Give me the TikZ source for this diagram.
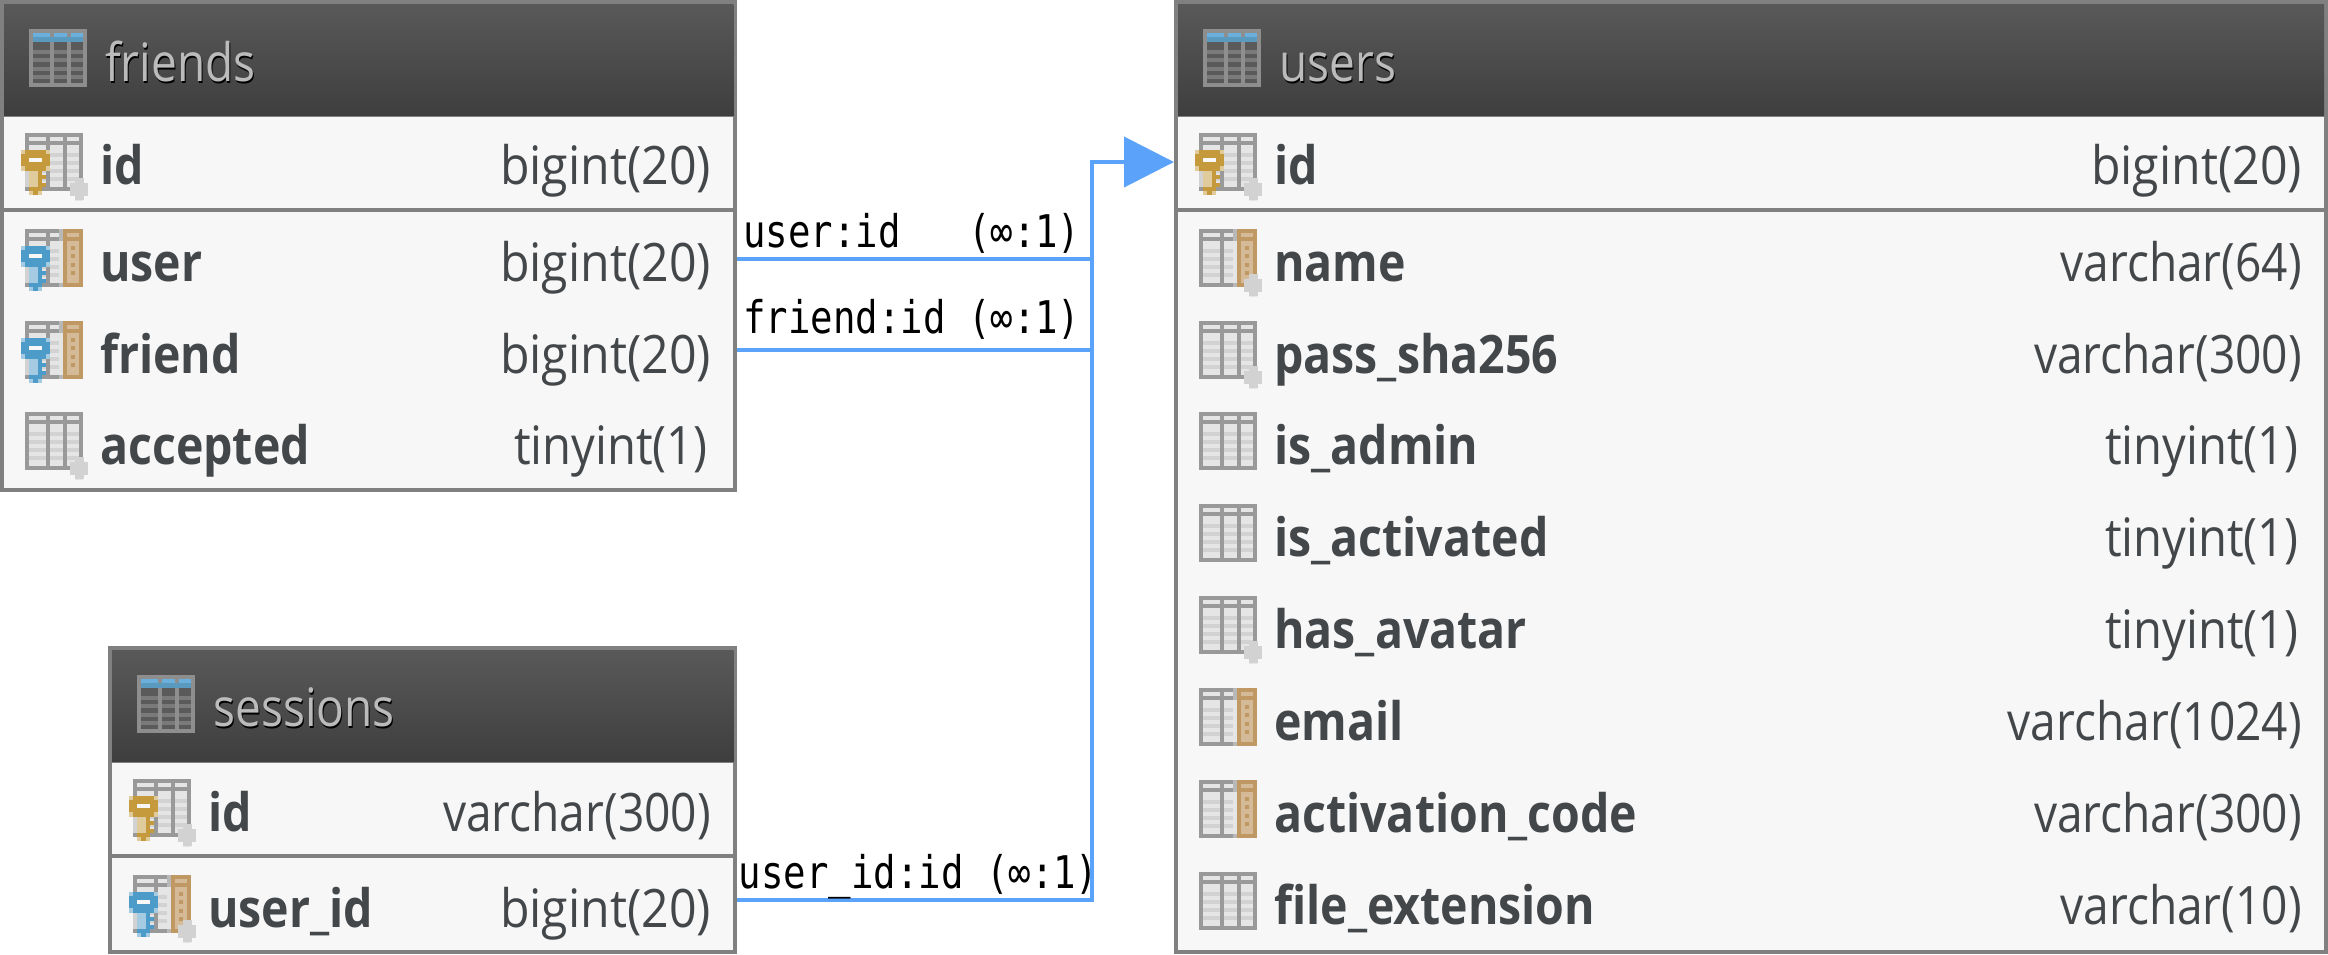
\documentclass[tikz,border=0pt]{standalone}
\usepackage{fontspec}
\usetikzlibrary{arrows.meta}
\newfontfamily\boldf[FakeStretch=0.877]{Open Sans Bold}
\newfontfamily\regf[FakeStretch=0.87]{Open Sans}
\newfontfamily\regbig[FakeStretch=0.91]{Open Sans}
\newfontfamily\regtiny[FakeStretch=0.89]{Open Sans}
\newfontfamily\monof[FakeStretch=0.83]{DejaVu Sans Mono}
\definecolor{bordergray}{HTML}{808080}
\definecolor{rowbg}{HTML}{F7F7F7}
\definecolor{inktext}{HTML}{44474A}
\definecolor{titletext}{HTML}{BBBBBB}
\definecolor{relblue}{HTML}{5BA3FA}
\definecolor{framegray}{HTML}{999999}
\definecolor{cellA}{HTML}{E5E5E5}
\definecolor{cellB}{HTML}{D2D2D2}
\definecolor{tan1}{HTML}{C09863}
\definecolor{tan2}{HTML}{D5BA98}
\definecolor{goldk}{HTML}{C49A3C}
\definecolor{goldp}{HTML}{E0CB9C}
\definecolor{bluek}{HTML}{4C9BC9}
\definecolor{bluep}{HTML}{A5CBE2}
\tikzset{
  x=1pt,y=-1pt,
  tablebox/.style={draw=bordergray,line width=4pt,fill=rowbg,anchor=north west,inner sep=0pt,outer sep=0pt},
  headbox/.style={anchor=north west,inner sep=0pt,outer sep=0pt,top color=HeadTop,bottom color=HeadBot,draw=none},
  sepline/.style={draw=bordergray,line width=4pt},
  headline/.style={draw=bordergray,line width=1.2pt},
  fieldname/.style={anchor=base west,inner sep=0pt,text=inktext,font=\fontsize{53}{60}\boldf},
  fieldtype/.style={anchor=base east,inner sep=0pt,text=inktext,font=\fontsize{53}{60}\regf},
  biginttype/.style={fieldtype,font=\fontsize{53}{60}\regbig},
  tinyinttype/.style={fieldtype,font=\fontsize{53}{60}\regtiny},
  tabletitle/.style={anchor=base west,inner sep=0pt,text=titletext,font=\fontsize{53}{60}\regf},
  titleshadow/.style={anchor=base west,inner sep=0pt,text=black,font=\fontsize{53}{60}\regf},
  rellabel/.style={anchor=base west,inner sep=0pt,text=black,font=\fontsize{45}{50}\monof},
  rel/.style={draw=relblue,line width=4pt,line join=miter},
  reltip/.style={-{Triangle[length=50pt,width=50pt,fill=relblue]}},
  pics/hicon/.style={code={
    \fill[HeadFrame] (0,0) rectangle (58,58);
    \foreach \a/\b in {4/21,25/38,42/54}{
      \fill[HeadCell] (\a,13) rectangle (\b,54);
      \fill[BlueA] (\a,4) rectangle (\b,8);
      \foreach \c in {21,29,38,46}{\fill[HeadLine] (\a,\c) rectangle (\b,\c+4);}
    }
    \fill[BlueB] (4,8) rectangle (54,13);
  }},
  pics/colicon/.style={code={
    \fill[framegray] (0,0) rectangle (58,58);
    \foreach \a/\b in {4/21,25/38,42/54}{
      \fill[cellA] (\a,4) rectangle (\b,8);
      \fill[cellA] (\a,12) rectangle (\b,54);
      \foreach \c in {20,28,36,44}{\fill[cellB] (\a,\c) rectangle (\b,\c+4);}
    }
  }},
  pics/fkcol/.style={code={
    \fill[framegray!70] (34,0) rectangle (38,58);
    \fill[cellA] (34,12) rectangle (38,54);
    \fill[tan1] (38,0) rectangle (58,58);
    \fill[tan2] (42,4) rectangle (54,8);
    \fill[tan2] (42,12) rectangle (54,54);
    \foreach \c in {17,25,34,42}{\fill[tan1] (46,\c) rectangle (50,\c+4);}
  }},
  pics/badge/.style={code={
    \fill[cellA] (-9,-4) rectangle (9,9);
    \fill[cellA] (-4,-9) rectangle (4,14);
    \fill[cellB] (-9,-4) rectangle (9,9);
    \fill[cellB] (-4,-9) rectangle (5,13);
  }},
  pics/keyicon/.style args={#1/#2}{code={
    \fill[cellB] (0,33) rectangle (4,54);
    \fill[#2] (-4,17) rectangle (25,38);
    \fill[#1] (0,17) rectangle (21,38);
    \fill[#1] (-4,21) rectangle (25,33);
    \fill[rowbg] (4,25) rectangle (17,29);
    \fill[#2] (4,38) rectangle (17,62);
    \fill[#1] (4,33) rectangle (17,38);
    \fill[#1] (13,38) rectangle (17,58);
    \fill[#1] (17,42) rectangle (21,46);
    \fill[#1] (17,50) rectangle (21,54);
    \fill[#1] (8,54) rectangle (13,62);
    \fill[#1] (4,54) rectangle (17,58);
  }},
}
\definecolor{HeadTop}{HTML}{595959}
\definecolor{HeadBot}{HTML}{3E3E3E}
\definecolor{HeadFrame}{HTML}{8E8E8E}
\definecolor{HeadCell}{HTML}{5A5A5A}
\definecolor{HeadLine}{HTML}{7A7A7A}
\definecolor{BlueA}{HTML}{6BB0DC}
\definecolor{BlueB}{HTML}{5B9ABF}
\begin{document}
\begin{tikzpicture}
\useasboundingbox (0,0) rectangle (2328,954);
\fill[white] (0,0) rectangle (2328,954);

% ---------- friends
\node[tablebox,minimum width=733.3pt,minimum height=488pt] (friends) at (2,2) {};
\node[headbox,minimum width=729.3pt,minimum height=112pt] (friendsHead) at (4,4) {};
\draw[headline] (friends.west |- 0,116.5) -- (friends.east |- 0,116.5);
\draw[sepline] (friends.west |- 0,210) -- (friends.east |- 0,210);
\pic at (29,29) {hicon};
\node[titleshadow] (friendsShade) at (106,83) {friends};
\node[tabletitle] (friendsTitle) at (105,81) {friends};
\pic at (25,133) {colicon}; \pic at (79,187) {badge}; \pic at (25,133) {keyicon=goldk/goldp};
\pic at (25,229) {colicon}; \pic at (25,229) {fkcol}; \pic at (25,229) {keyicon=bluek/bluep};
\pic at (25,321) {colicon}; \pic at (25,321) {fkcol}; \pic at (25,321) {keyicon=bluek/bluep};
\pic at (25,412) {colicon}; \pic at (79,466) {badge};
\node[fieldname] (f1) at (100,184) {id};       \node[biginttype] (f1t) at (711,184) {bigint(20)};
\node[fieldname] (f2) at (100,281) {user};     \node[biginttype] (f2t) at (711,281) {bigint(20)};
\node[fieldname] (f3) at (100,373) {friend};   \node[biginttype] (f3t) at (711,373) {bigint(20)};
\node[fieldname] (f4) at (100,464) {accepted}; \node[tinyinttype] (f4t) at (708,464) {tinyint(1)};

% ---------- sessions
\node[tablebox,minimum width=625.3pt,minimum height=304pt] (sessions) at (110,648) {};
\node[headbox,minimum width=621.3pt,minimum height=112pt] (sessionsHead) at (112,650) {};
\draw[headline] (sessions.west |- 0,762.5) -- (sessions.east |- 0,762.5);
\draw[sepline] (sessions.west |- 0,856) -- (sessions.east |- 0,856);
\pic at (137,675) {hicon};
\node[titleshadow] (sessionsShade) at (214,728) {sessions};
\node[tabletitle] (sessionsTitle) at (213,726) {sessions};
\pic at (133,779) {colicon}; \pic at (187,833) {badge}; \pic at (133,779) {keyicon=goldk/goldp};
\pic at (133,875) {colicon}; \pic at (133,875) {fkcol}; \pic at (187,929) {badge}; \pic at (133,875) {keyicon=bluek/bluep};
\node[fieldname] (s1) at (208,831) {id};      \node[fieldtype] (s1t) at (711,831) {varchar(300)};
\node[fieldname] (s2) at (208,927) {user\_id}; \node[biginttype] (s2t) at (711,927) {bigint(20)};

% ---------- users
\node[tablebox,minimum width=1150pt,minimum height=950pt] (users) at (1176,2) {};
\node[headbox,minimum width=1146pt,minimum height=112pt] (usersHead) at (1178,4) {};
\draw[headline] (users.west |- 0,116.5) -- (users.east |- 0,116.5);
\draw[sepline] (users.west |- 0,210) -- (users.east |- 0,210);
\pic at (1203,29) {hicon};
\node[titleshadow] (usersShade) at (1280,83) {users};
\node[tabletitle] (usersTitle) at (1279,81) {users};
\pic at (1199,133) {colicon}; \pic at (1253,187) {badge}; \pic at (1199,133) {keyicon=goldk/goldp};
\pic at (1199,229) {colicon}; \pic at (1199,229) {fkcol}; \pic at (1253,283) {badge};
\pic at (1199,321) {colicon}; \pic at (1253,375) {badge};
\pic at (1199,412) {colicon};
\pic at (1199,504) {colicon};
\pic at (1199,596) {colicon}; \pic at (1253,650) {badge};
\pic at (1199,688) {colicon}; \pic at (1199,688) {fkcol};
\pic at (1199,780) {colicon}; \pic at (1199,780) {fkcol};
\pic at (1199,872) {colicon};
\node[fieldname] (u1) at (1274,184) {id};               \node[biginttype] (u1t) at (2302,184) {bigint(20)};
\node[fieldname] (u2) at (1274,281) {name};             \node[fieldtype] (u2t) at (2302,281) {varchar(64)};
\node[fieldname] (u3) at (1274,373) {pass\_sha256};     \node[fieldtype] (u3t) at (2302,373) {varchar(300)};
\node[fieldname] (u4) at (1274,464) {is\_admin};        \node[tinyinttype] (u4t) at (2299,464) {tinyint(1)};
\node[fieldname] (u5) at (1274,556) {is\_activated};    \node[tinyinttype] (u5t) at (2299,556) {tinyint(1)};
\node[fieldname] (u6) at (1274,648) {has\_avatar};      \node[tinyinttype] (u6t) at (2299,648) {tinyint(1)};
\node[fieldname] (u7) at (1274,740) {email};            \node[fieldtype] (u7t) at (2302,740) {varchar(1024)};
\node[fieldname] (u8) at (1274,832) {activation\_code}; \node[fieldtype] (u8t) at (2302,832) {varchar(300)};
\node[fieldname] (u9) at (1274,924) {file\_extension};  \node[fieldtype] (u9t) at (2302,924) {varchar(10)};

% ---------- connectors
\coordinate (bus) at (1092,0);
\coordinate (fromUser) at (friends.east |- 0,258.7);
\coordinate (fromFriend) at (friends.east |- 0,349.5);
\coordinate (fromSession) at (sessions.east |- 0,900);
\coordinate (toId) at (users.west |- 0,162);
\draw[rel,shorten <=2pt] (fromUser) -- (fromUser -| bus);
\draw[rel,shorten <=2pt] (fromFriend) -- (fromFriend -| bus);
\draw[rel,reltip,shorten <=2pt,shorten >=2pt] (fromSession) -- (fromSession -| bus) -- (toId -| bus) -- (toId);
\node[rellabel] (lab1) at (743,247) {user:id~~~(∞:1)};
\node[rellabel] (lab2) at (743,333) {friend:id (∞:1)};
\node[rellabel] (lab3) at (738.5,888) {user\_id:id (∞:1)};
\end{tikzpicture}
\end{document}
